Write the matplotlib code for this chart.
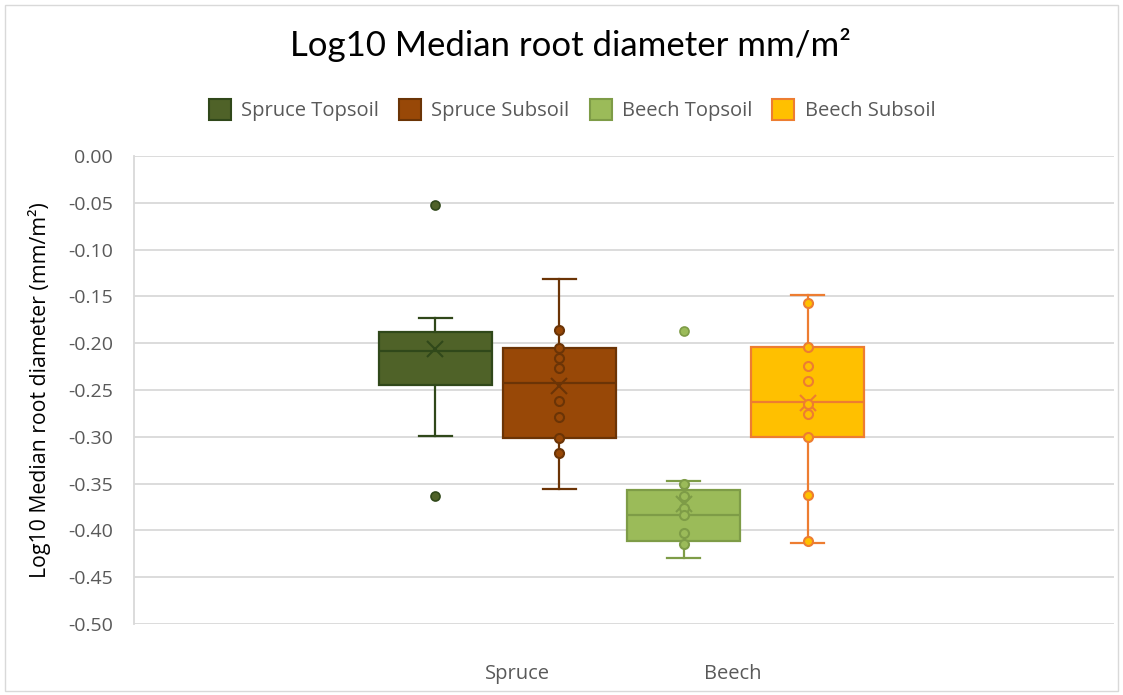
import matplotlib
matplotlib.use("Agg")
import matplotlib.pyplot as plt
from matplotlib.patches import Rectangle, Patch

# ---- data ----
series = ["Spruce Topsoil", "Spruce Subsoil", "Beech Topsoil", "Beech Subsoil"]
categories = ["Spruce", "Beech"]
whislo = [-0.299, -0.356, -0.429, -0.413]
q1 = [-0.245, -0.301, -0.411, -0.300]
med = [-0.208, -0.243, -0.384, -0.263]
q3 = [-0.188, -0.205, -0.357, -0.204]
whishi = [-0.173, -0.131, -0.347, -0.148]
means = [-0.206, -0.246, -0.372, -0.264]
outliers = [[-0.052, -0.363], [], [-0.187], []]
inner_points = [
    [],
    [-0.186, -0.205, -0.216, -0.226, -0.262, -0.279, -0.301, -0.317],
    [-0.350, -0.363, -0.376, -0.384, -0.403, -0.414],
    [-0.157, -0.204, -0.224, -0.240, -0.265, -0.276, -0.300, -0.362, -0.411],
]
yticks = [0.00, -0.05, -0.10, -0.15, -0.20, -0.25, -0.30, -0.35, -0.40, -0.45, -0.50]

# ---- styles ----
fills = ["#4F6228", "#984807", "#9BBB59", "#FFC000"]
edges = ["#30481A", "#6B3406", "#7E9C47", "#ED7D31"]
positions = [0, 1, 2, 3]
cat_pos = [0.66, 2.40]
FONT = ["Open Sans", "DejaVu Sans"]
TFONT = ["Lato", "DejaVu Sans"]

W, H = 1123, 695
fig = plt.figure(figsize=(W / 100, H / 100), dpi=100)
fig.patches.append(Rectangle((5 / W, 4 / H), 1 - 10 / W, 1 - 9 / H, transform=fig.transFigure,
                             fill=False, edgecolor="#D9D9D9", linewidth=1.0))

ax = fig.add_axes([134 / W, 1 - 624 / H, (1114 - 134) / W, (624 - 156) / H])
ax.set_ylim(-0.5, 0.0)
ax.set_xlim(-2.43, 5.47)

ax.set_yticks(yticks)
ax.set_yticklabels([f"{v:.2f}" for v in yticks], fontfamily=FONT, fontsize=14, color="#595959")
ax.yaxis.grid(True, color="#D9D9D9", linewidth=1.3)
ax.set_axisbelow(True)
ax.tick_params(axis="y", length=0, pad=15)
ax.set_xticks(cat_pos)
ax.set_xticklabels(categories, fontfamily=FONT, fontsize=14.5, color="#595959")
ax.tick_params(axis="x", length=0, pad=29)
for s in ["top", "right", "bottom"]:
    ax.spines[s].set_visible(False)
ax.spines["left"].set_color("#D9D9D9")
ax.spines["left"].set_linewidth(1.3)

for i in range(len(series)):
    stats = [dict(med=med[i], q1=q1[i], q3=q3[i], whislo=whislo[i], whishi=whishi[i],
                  mean=means[i], fliers=outliers[i], label=series[i])]
    ax.bxp(stats, positions=[positions[i]], widths=0.91, patch_artist=True, showmeans=True,
           boxprops=dict(facecolor=fills[i], edgecolor=edges[i], linewidth=1.6),
           medianprops=dict(color=edges[i], linewidth=1.6),
           whiskerprops=dict(color=edges[i], linewidth=1.6),
           capprops=dict(color=edges[i], linewidth=1.6),
           capwidths=0.27,
           meanprops=dict(marker="x", markeredgecolor=edges[i], markersize=11, markeredgewidth=1.5),
           flierprops=dict(marker="o", markerfacecolor=fills[i], markeredgecolor=edges[i],
                           markersize=6.5, markeredgewidth=1.2),
           manage_ticks=False, zorder=3)
    if inner_points[i]:
        ax.plot([positions[i]] * len(inner_points[i]), inner_points[i], linestyle="none",
                marker="o", markersize=6.5, markerfacecolor=fills[i], markeredgecolor=edges[i],
                markeredgewidth=1.5, zorder=4)

ax.set_ylabel("Log10 Median root diameter (mm/m²)", fontfamily=FONT, fontsize=15.3,
              color="#000000", labelpad=12)

fig.text(570 / W, 1 - 45 / H, "Log10 Median root diameter mm/m²", ha="center", va="center",
         fontfamily=TFONT, fontsize=25, color="#000000")

handles = [Patch(facecolor=fills[i], edgecolor=edges[i], linewidth=1.5) for i in range(len(series))]
fig.legend(handles, series, loc="center", bbox_to_anchor=(572 / W, 1 - 110 / H), ncol=4,
           frameon=False, prop=dict(family=FONT, size=14.5), labelcolor="#595959",
           handlelength=1.1, handleheight=1.2, handletextpad=0.5, columnspacing=1.0)

fig.savefig("out.png", dpi=100)
